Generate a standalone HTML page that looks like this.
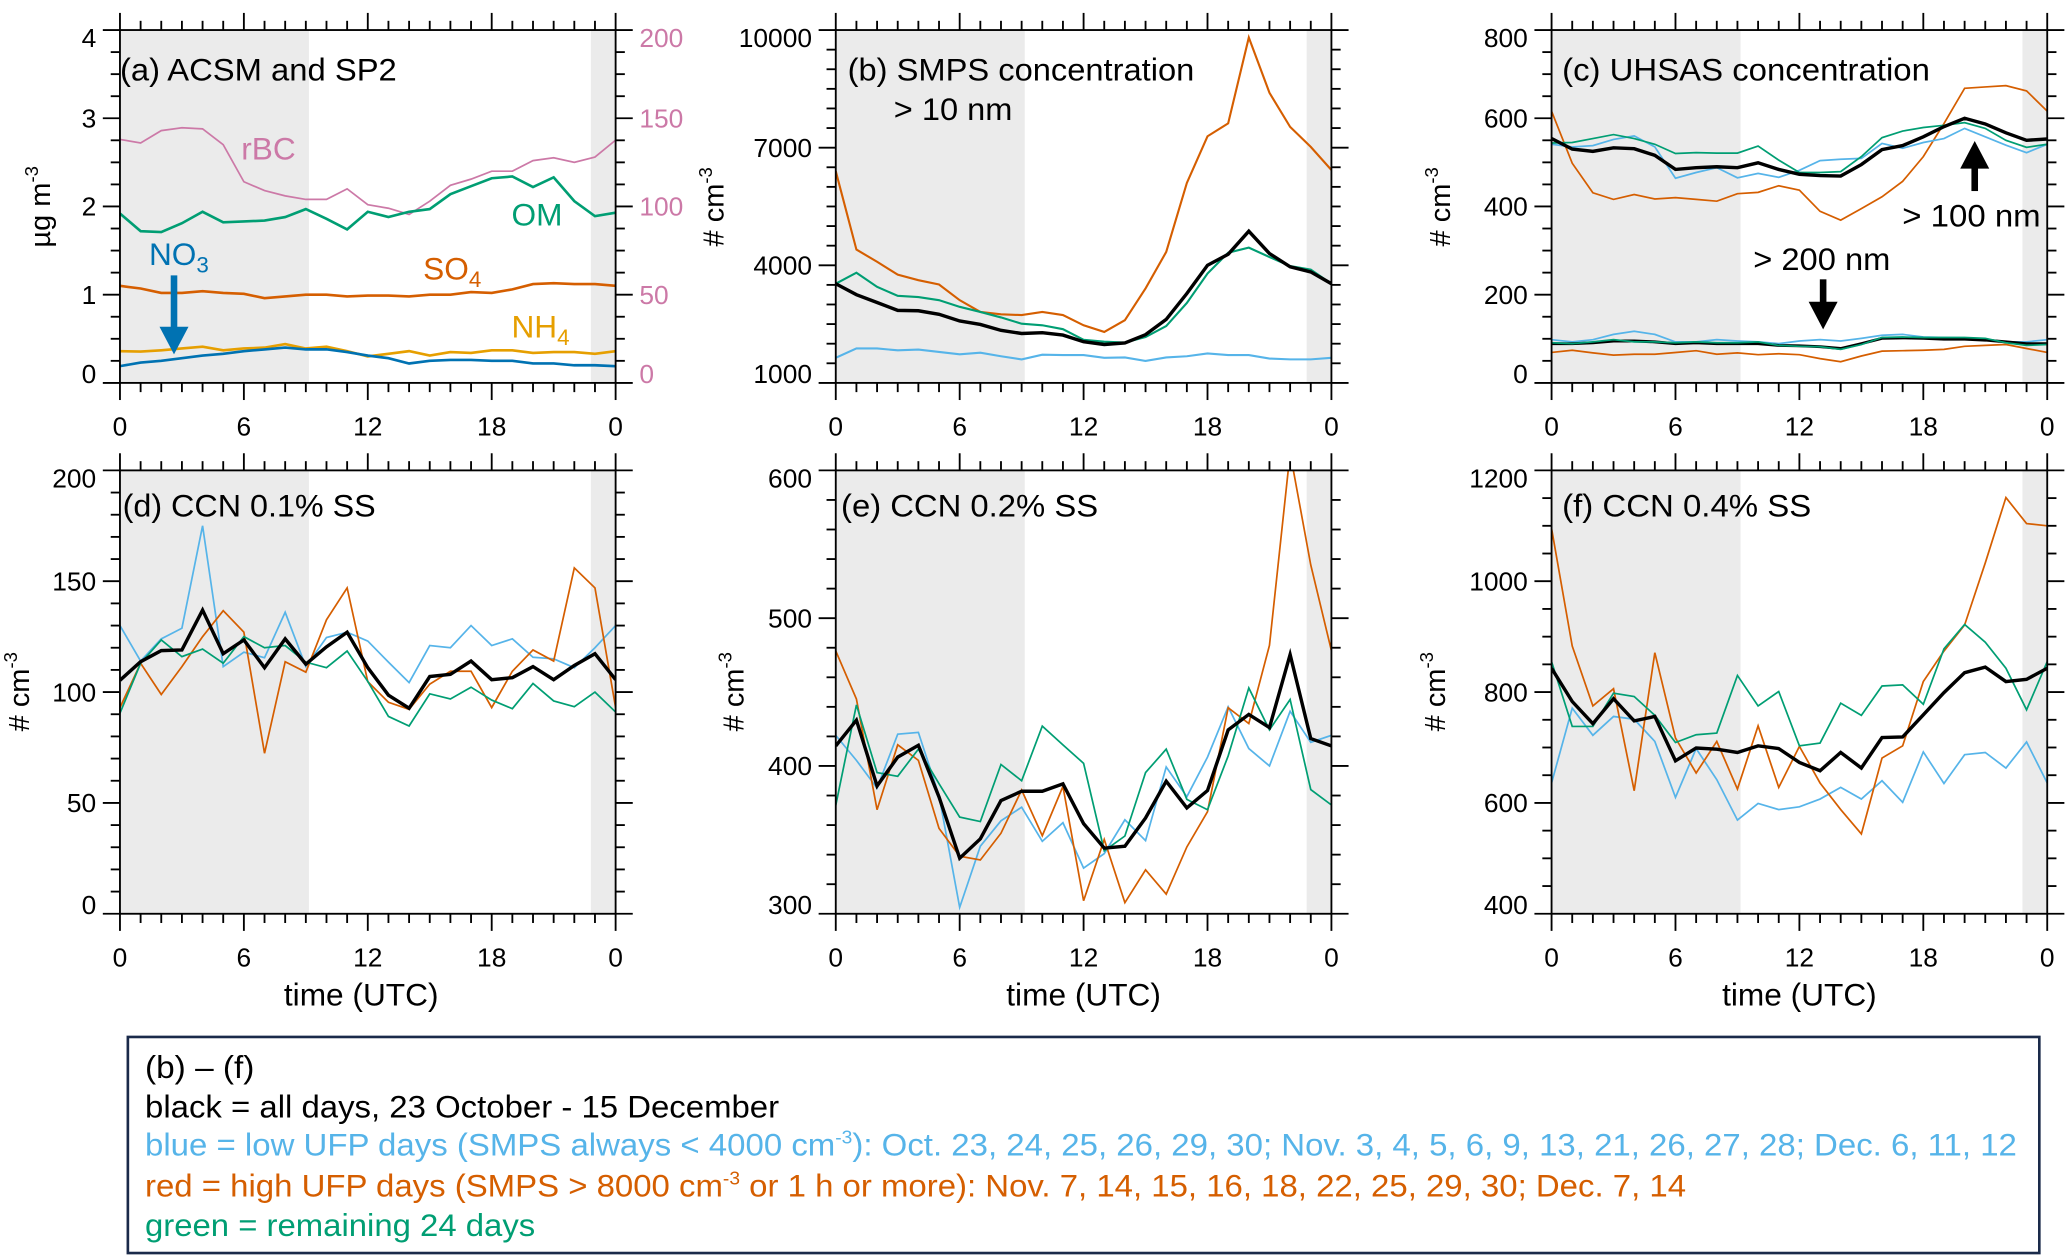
<!DOCTYPE html>
<html><head><meta charset="utf-8"><style>
html,body{margin:0;padding:0;background:#fff;}
svg{display:block;font-family:"Liberation Sans",sans-serif;}
</style></head><body>
<svg id="chart" xmlns="http://www.w3.org/2000/svg" width="2067" height="1257" viewBox="0 0 1568 954" preserveAspectRatio="none" font-family="Liberation Sans, sans-serif">
<rect x="0" y="0" width="1568" height="954" fill="#fff"/>
<g id="plots"></g>
<g id="annot" font-size="24">
<text x="91" y="61" textLength="210" lengthAdjust="spacingAndGlyphs">(a) ACSM and SP2</text>
<text x="183" y="121" fill="#cc79a7">rBC</text>
<text x="388" y="171" fill="#009e73">OM</text>
<text x="113" y="201" fill="#0072b2">NO<tspan dy="6" font-size="17">3</tspan></text>
<text x="321" y="212" fill="#d55e00">SO<tspan dy="6" font-size="17">4</tspan></text>
<text x="388" y="256" fill="#e69f00">NH<tspan dy="6" font-size="17">4</tspan></text>
<g fill="#0072b2">
<rect x="129.5" y="209" width="5" height="40"/>
<polygon points="121,248 143,248 132,269"/>
</g>
<text x="643" y="61" textLength="263" lengthAdjust="spacingAndGlyphs">(b) SMPS concentration</text>
<text x="678" y="91" textLength="90" lengthAdjust="spacingAndGlyphs">&gt; 10 nm</text>
<text x="1185" y="61" textLength="279" lengthAdjust="spacingAndGlyphs">(c) UHSAS concentration</text>
<text x="1443" y="172" textLength="105" lengthAdjust="spacingAndGlyphs">&gt; 100 nm</text>
<text x="1330" y="205" textLength="104" lengthAdjust="spacingAndGlyphs">&gt; 200 nm</text>
<g fill="#000">
<rect x="1495.5" y="126" width="5" height="19"/>
<polygon points="1487,128 1509,128 1498,107"/>
</g>
<g fill="#000">
<rect x="1380.5" y="212" width="5" height="19"/>
<polygon points="1372,229 1394,229 1383,250"/>
</g>
<text x="93" y="392" textLength="192" lengthAdjust="spacingAndGlyphs">(d) CCN 0.1% SS</text>
<text x="638" y="392" textLength="195" lengthAdjust="spacingAndGlyphs">(e) CCN 0.2% SS</text>
<text x="1185" y="392" textLength="189" lengthAdjust="spacingAndGlyphs">(f) CCN 0.4% SS</text>
<text x="274" y="763" text-anchor="middle">time (UTC)</text>
<text x="822" y="763" text-anchor="middle">time (UTC)</text>
<text x="1365" y="763" text-anchor="middle">time (UTC)</text>
<text transform="translate(38,157) rotate(-90)" text-anchor="middle" font-size="22">µg m<tspan dy="-9" font-size="14">-3</tspan></text>
<text transform="translate(549,157) rotate(-90)" text-anchor="middle" font-size="22"># cm<tspan dy="-9" font-size="14">-3</tspan></text>
<text transform="translate(1100,157) rotate(-90)" text-anchor="middle" font-size="22"># cm<tspan dy="-9" font-size="14">-3</tspan></text>
<text transform="translate(22,525) rotate(-90)" text-anchor="middle" font-size="22"># cm<tspan dy="-9" font-size="14">-3</tspan></text>
<text transform="translate(564,525) rotate(-90)" text-anchor="middle" font-size="22"># cm<tspan dy="-9" font-size="14">-3</tspan></text>
<text transform="translate(1096,525) rotate(-90)" text-anchor="middle" font-size="22"># cm<tspan dy="-9" font-size="14">-3</tspan></text>
</g>
<g font-size="24">
<rect x="97" y="787" width="1450" height="164" fill="none" stroke="#1a2a4a" stroke-width="2"/>
<text x="110" y="818" textLength="83" lengthAdjust="spacingAndGlyphs">(b) – (f)</text>
<text x="110" y="848" textLength="481" lengthAdjust="spacingAndGlyphs">black = all days, 23 October - 15 December</text>
<text x="110" y="877" fill="#56b4e9" textLength="1420" lengthAdjust="spacingAndGlyphs">blue = low UFP days (SMPS always &lt; 4000 cm<tspan dy="-9" font-size="14">-3</tspan><tspan dy="9">): Oct. 23, 24, 25, 26, 29, 30; Nov. 3, 4, 5, 6, 9, 13, 21, 26, 27, 28; Dec. 6, 11, 12</tspan></text>
<text x="110" y="908" fill="#d55e00" textLength="1169" lengthAdjust="spacingAndGlyphs">red = high UFP days (SMPS &gt; 8000 cm<tspan dy="-9" font-size="14">-3</tspan><tspan dy="9"> or 1 h or more): Nov. 7, 14, 15, 16, 18, 22, 25, 29, 30; Dec. 7, 14</tspan></text>
<text x="110" y="938" fill="#009e73" textLength="296" lengthAdjust="spacingAndGlyphs">green = remaining 24 days</text>
</g>
</svg>
<script>
const HOURS = [0,1,2,3,4,5,6,7,8,9,10,11,12,13,14,15,16,17,18,19,20,21,22,23,24];
const XTICK_HOURS = [0,6,12,18,24];
const XTICK_LABELS = ['0','6','12','18','0'];
const NIGHT_START = 9.15;
const NIGHT_END = 22.8;

// Panel a (µg m-3; rBC on right axis ng m-3)
const A_TICKS = [0,1,2,3,4];
const A_RIGHT_TICKS = [0,50,100,150,200];
const A_RBC = [138,136,143,144.6,144,135,114,109,106,104,104,110,101,99,95.5,103,112,115.5,120,120,126,127.6,125,128,137.6];
const A_OM = [1.92,1.72,1.71,1.81,1.94,1.82,1.83,1.84,1.88,1.97,1.86,1.74,1.94,1.88,1.94,1.97,2.14,2.23,2.32,2.34,2.22,2.33,2.06,1.89,1.93];
const A_SO4 = [1.10,1.07,1.02,1.02,1.04,1.02,1.01,0.96,0.98,1.00,1.00,0.98,0.99,0.99,0.98,1.00,1.00,1.03,1.02,1.06,1.12,1.13,1.12,1.12,1.10];
const A_NH4 = [0.36,0.355,0.37,0.39,0.41,0.37,0.39,0.40,0.44,0.39,0.41,0.36,0.30,0.33,0.36,0.31,0.35,0.34,0.37,0.37,0.34,0.35,0.35,0.33,0.36];
const A_NO3 = [0.19,0.23,0.25,0.28,0.31,0.33,0.36,0.38,0.40,0.38,0.38,0.35,0.31,0.28,0.22,0.25,0.26,0.26,0.25,0.25,0.22,0.22,0.20,0.20,0.19];

// Panel b SMPS
const B_TICKS = [1000,4000,7000,10000];
const B_RED = [6400,4400,4090,3760,3620,3510,3110,2810,2750,2730,2810,2730,2470,2300,2600,3410,4340,6100,7290,7620,9810,8400,7530,7020,6430];
const B_BLACK = [3530,3250,3050,2850,2840,2750,2580,2490,2340,2260,2280,2220,2050,1980,2020,2230,2620,3280,4000,4280,4870,4300,3960,3830,3530];
const B_GREEN = [3530,3810,3450,3220,3190,3110,2940,2810,2670,2510,2470,2370,2100,2050,2030,2170,2450,3040,3790,4320,4450,4210,3980,3890,3530];
const B_BLUE = [1640,1880,1880,1830,1850,1790,1730,1770,1680,1600,1720,1710,1710,1640,1650,1560,1650,1680,1750,1710,1710,1620,1600,1600,1640];

// Panel c UHSAS
const C_TICKS = [0,200,400,600,800];
const C_BLACK_100 = [554,530,525,533,531,516,484,488,490,488,499,484,473,470,469,495,529,538,558,581,600,587,567,550,553];
const C_GREEN_100 = [544,545,554,563,554,541,520,522,521,521,537,505,477,477,479,513,556,571,579,584,590,577,550,534,541];
const C_BLUE_100 = [541,535,538,552,560,535,464,477,488,465,475,466,482,504,507,509,543,532,545,554,577,558,539,522,541];
const C_RED_100 = [616,498,431,416,427,417,420,416,412,429,432,447,437,389,369,395,422,457,513,588,668,671,674,662,616];
const C_BLACK_200 = [89,89,91,95,95,93,89,91,89,89,89,85,84,82,78,89,101,102,101,99,99,97,93,89,89];
const C_GREEN_200 = [91,89,93,98,93,93,91,93,91,91,93,85,83,82,76,87,103,104,103,103,103,101,91,85,87];
const C_BLUE_200 = [98,93,98,110,117,110,93,93,98,95,93,89,95,98,95,101,108,110,104,103,102,99,93,93,98];
const C_RED_200 = [69,74,68,63,65,65,69,73,65,68,64,66,64,55,48,61,72,73,74,76,83,85,87,78,69];

// Panel d CCN 0.1%
const D_TICKS = [0,50,100,150,200];
const D_BLACK = [105.3,113.7,118.7,119,137,117.3,123.5,111,124,112.6,120.4,127,111,98.6,92.7,107,108,114,105.6,106.5,111.5,105.6,112,117.3,105.6];
const D_BLUE = [130,114,124,128.8,175,111.5,118,115.5,136,111.5,124.6,127,123,113.5,104.3,121,120,130,121,124,115.7,115,111,120,130];
const D_RED = [93,113,98.9,111.5,125,136.7,127,72.4,113.7,109,132.6,147,104.7,95.4,92.2,103.6,109.4,109.4,93,109.4,119,114,156,147,93];
const D_GREEN = [90.5,113,123.5,116,119.4,113,125,120,121,113.5,111,118.5,104.8,89,84.7,99.2,96.9,102.2,96.4,92.5,103.9,96,93.4,100,91];

// Panel e CCN 0.2%
const E_TICKS = [300,400,500,600];
const E_BLACK = [413.6,431,386.5,406,414,379,337.6,350.7,376.6,382.9,382.9,387.9,361,344.4,345.7,364.8,389.7,371.6,383.4,424.4,434.9,426,475.4,418.5,413.6];
const E_BLUE = [420.7,403.8,385,421.5,422.7,380,304.3,345.7,362.9,372.1,349,361.6,330.9,340.7,363.6,349.5,399.3,379.2,406,440,411.8,400,437,416,420.7];
const E_RED = [477.8,445.3,370.4,414.3,403.8,357.8,338.9,336.4,354.5,383.7,352.8,386.2,308.8,350.3,307.5,329.7,313.3,345.2,369.1,439.4,428.7,481.6,612,536,478];
const E_GREEN = [373.4,441.3,395.5,393,411.4,388,365.4,362.4,401,390,427,414.3,401.8,342.6,352.6,395.5,411.4,377.4,370.4,406.8,452.8,424.4,445,384,373.6];

// Panel f CCN 0.4%
const F_TICKS = [400,600,800,1000,1200];
const F_BLACK = [843,783,743,788,748,756,676,699,697,691,703,698,673,658,691,663,718,719,759,799,835,845,819,823,843];
const F_BLUE = [636,771,722,756,751,711,610,698,642,569,599,588,593,607,628,607,640,601,692,635,687,691,663,710,636];
const F_RED = [1095,883,775,806,622,871,717,654,711,625,739,628,702,636,588,544,681,703,819,874,921,1033,1151,1104,1100];
const F_GREEN = [855,738,738,798,792,758,709,723,726,830,775,801,703,708,780,758,811,813,778,878,922,890,843,768,855];

const BLUE='#56b4e9', RED='#d55e00', GREEN='#009e73', BLACK='#000';
const NS = 'http://www.w3.org/2000/svg';
const root = document.getElementById('plots');
function mk(tag, attrs, parent){
  const e = document.createElementNS(NS, tag);
  for (const k in attrs) e.setAttribute(k, attrs[k]);
  parent.appendChild(e);
  return e;
}

const PANELS = [
  {id:'a', x0:91, y0:22.8, y1:290.6, ymin:0, ymax:4, minor:0.25, ticks:A_TICKS,
   right:{ymin:0, ymax:200, ticks:A_RIGHT_TICKS, color:'#cc79a7'},
   series:[
    {name:'rbc', data:A_RBC, color:'#cc79a7', w:1.3, right:true},
    {name:'om', data:A_OM, color:GREEN, w:2},
    {name:'so4', data:A_SO4, color:RED, w:2},
    {name:'nh4', data:A_NH4, color:'#e69f00', w:2},
    {name:'no3', data:A_NO3, color:'#0072b2', w:2}]},
  {id:'b', x0:634, y0:22.8, y1:290.6, ymin:1000, ymax:10000, minor:500, ticks:B_TICKS,
   series:[
    {name:'red', data:B_RED, color:RED, w:1.6},
    {name:'blue', data:B_BLUE, color:BLUE, w:1.6},
    {name:'green', data:B_GREEN, color:GREEN, w:1.6},
    {name:'black', data:B_BLACK, color:BLACK, w:2.6}]},
  {id:'c', x0:1177, y0:22.8, y1:290.6, ymin:0, ymax:800, minor:50, ticks:C_TICKS,
   series:[
    {name:'red-100nm', data:C_RED_100, color:RED, w:1.3},
    {name:'blue-100nm', data:C_BLUE_100, color:BLUE, w:1.3},
    {name:'green-100nm', data:C_GREEN_100, color:GREEN, w:1.3},
    {name:'black-100nm', data:C_BLACK_100, color:BLACK, w:2.6},
    {name:'red-200nm', data:C_RED_200, color:RED, w:1.3},
    {name:'blue-200nm', data:C_BLUE_200, color:BLUE, w:1.3},
    {name:'black-200nm', data:C_BLACK_200, color:BLACK, w:2.2},
    {name:'green-200nm', data:C_GREEN_200, color:GREEN, w:1.3}]},
  {id:'d', x0:91, y0:357, y1:693.5, ymin:0, ymax:200, minor:10, ticks:D_TICKS,
   series:[
    {name:'blue', data:D_BLUE, color:BLUE, w:1.3},
    {name:'red', data:D_RED, color:RED, w:1.3},
    {name:'green', data:D_GREEN, color:GREEN, w:1.3},
    {name:'black', data:D_BLACK, color:BLACK, w:2.6}]},
  {id:'e', x0:634, y0:357, y1:693.5, ymin:300, ymax:600, minor:20, ticks:E_TICKS,
   series:[
    {name:'blue', data:E_BLUE, color:BLUE, w:1.3},
    {name:'red', data:E_RED, color:RED, w:1.3},
    {name:'green', data:E_GREEN, color:GREEN, w:1.3},
    {name:'black', data:E_BLACK, color:BLACK, w:2.6}]},
  {id:'f', x0:1177, y0:357, y1:693.5, ymin:400, ymax:1200, minor:50, ticks:F_TICKS,
   series:[
    {name:'blue', data:F_BLUE, color:BLUE, w:1.3},
    {name:'red', data:F_RED, color:RED, w:1.3},
    {name:'green', data:F_GREEN, color:GREEN, w:1.3},
    {name:'black', data:F_BLACK, color:BLACK, w:2.6}]}
];
const W = 376, MAJ = 13, MIN = 7;

function labelShift(v, lo, hi){
  if (Math.abs(v - hi) < 1e-6) return 6;
  if (Math.abs(v - lo) < 1e-6) return -7;
  return 0;
}

PANELS.forEach(p => {
  const g = mk('g', {}, root);
  
  
  const xs = h => p.x0 + h / 24 * W;
  const ys = v => p.y1 - (v - p.ymin) / (p.ymax - p.ymin) * (p.y1 - p.y0);
  const ysR = p.right ? (v => p.y1 - (v - p.right.ymin) / (p.right.ymax - p.right.ymin) * (p.y1 - p.y0)) : null;
  const x1 = p.x0 + W;

  const s1 = mk('rect', {x:xs(0), y:p.y0, width:xs(NIGHT_START)-xs(0), height:p.y1-p.y0, fill:'#ebebeb'}, g);
  
  
  const s2 = mk('rect', {x:xs(NIGHT_END), y:p.y0, width:xs(24)-xs(NIGHT_END), height:p.y1-p.y0, fill:'#ebebeb'}, g);
  
  

  const cp = mk('clipPath', {id:'clip-' + p.id}, g);
  mk('rect', {x:p.x0, y:p.y0, width:W, height:p.y1-p.y0}, cp);
  const sg = mk('g', {'clip-path':'url(#clip-' + p.id + ')'}, g);
  
  
  p.series.forEach(s => {
    const f = s.right ? ysR : ys;
    const pts = s.data.map((v, i) => xs(HOURS[i]).toFixed(2) + ',' + f(v).toFixed(2)).join(' ');
    const line = mk('polyline', {points:pts, fill:'none', stroke:s.color, 'stroke-width':s.w, 'stroke-linejoin':'miter'}, sg);
    
    
  });

  const ax = mk('g', {stroke:'#000', 'stroke-width':1.4, fill:'none'}, g);
  
  
  mk('rect', {x:p.x0, y:p.y0, width:W, height:p.y1-p.y0}, ax);
  for (let h = 0; h <= 24; h++) {
    const L = (h % 6 === 0) ? MAJ : MIN;
    const x = xs(h);
    mk('line', {x1:x, y1:p.y1, x2:x, y2:p.y1+L}, ax);
    mk('line', {x1:x, y1:p.y0, x2:x, y2:p.y0-L}, ax);
  }
  const nMin = Math.round((p.ymax - p.ymin) / p.minor);
  for (let k = 0; k <= nMin; k++) {
    const v = p.ymin + k * p.minor;
    const isMaj = p.ticks.some(t => Math.abs(t - v) < 1e-6);
    const L = isMaj ? MAJ : MIN;
    const y = ys(v);
    mk('line', {x1:p.x0, y1:y, x2:p.x0-L, y2:y}, ax);
    mk('line', {x1:x1, y1:y, x2:x1+L, y2:y}, ax);
  }

  XTICK_HOURS.forEach((h, i) => {
    const t = mk('text', {x:xs(h), y:p.y1+40, 'text-anchor':'middle', 'font-size':20}, g);
    
    
    t.textContent = XTICK_LABELS[i];
  });
  p.ticks.forEach(v => {
    const t = mk('text', {x:p.x0-18, y:ys(v)+7+labelShift(v, p.ymin, p.ymax), 'text-anchor':'end', 'font-size':20}, g);
    
    
    t.textContent = String(v);
  });
  if (p.right) {
    p.right.ticks.forEach(v => {
      const t = mk('text', {x:x1+18, y:ysR(v)+7+labelShift(v, p.right.ymin, p.right.ymax), 'text-anchor':'start', 'font-size':20, fill:p.right.color}, g);
      
      
      t.textContent = String(v);
    });
  }
});
</script>
</body></html>
